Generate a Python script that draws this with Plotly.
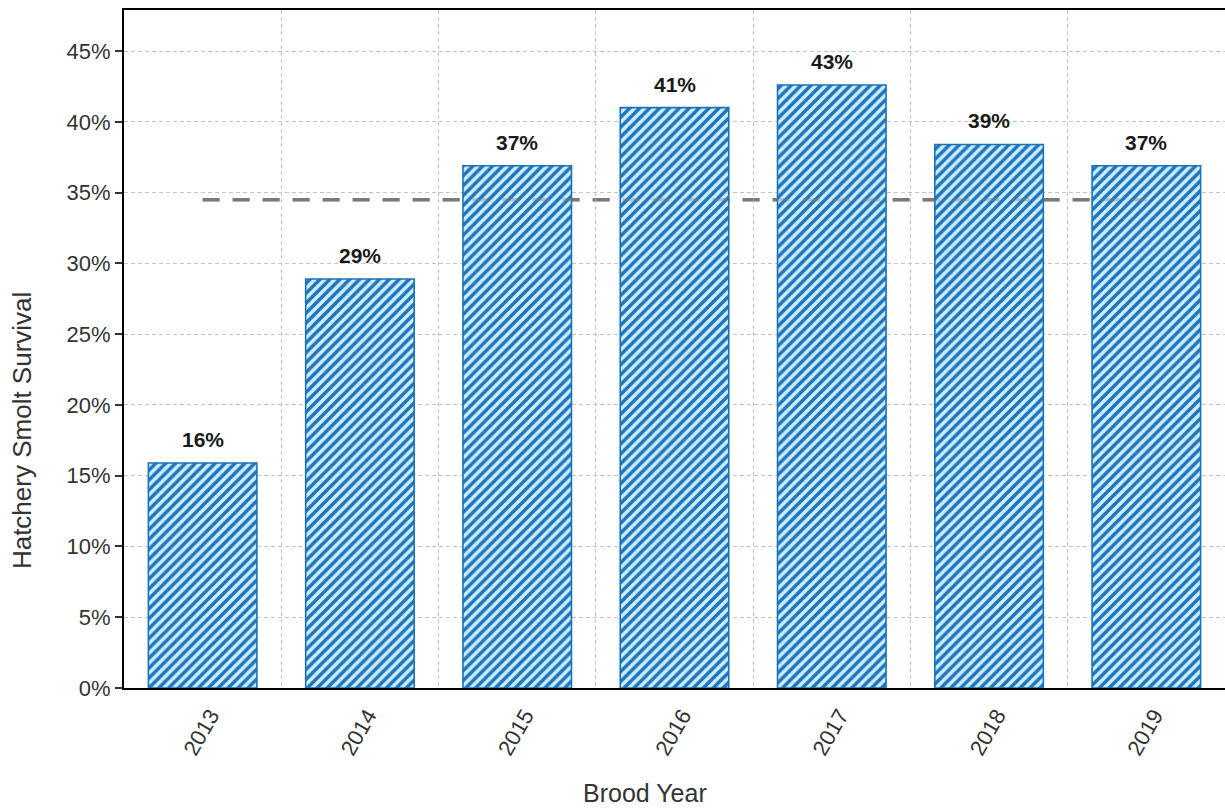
import plotly.graph_objects as go

years = ["2013", "2014", "2015", "2016", "2017", "2018", "2019"]
survival = [0.159, 0.289, 0.369, 0.410, 0.426, 0.384, 0.369]
labels = ["16%", "29%", "37%", "41%", "43%", "39%", "37%"]
average_survival = 0.345
y_ticks = [0, 0.05, 0.10, 0.15, 0.20, 0.25, 0.30, 0.35, 0.40, 0.45]
y_tick_text = ["0%", "5%", "10%", "15%", "20%", "25%", "30%", "35%", "40%", "45%"]

FONT = "Liberation Sans, Arial, sans-serif"

fig = go.Figure()
fig.add_trace(go.Bar(
    x=years, y=survival, width=0.69,
    marker=dict(
        color="rgb(210,237,251)",
        line=dict(color="#1a72ba", width=1.6),
        pattern=dict(shape="/", fgcolor="#1b76bf", bgcolor="rgb(210,237,251)",
                     size=7, solidity=0.5, fillmode="replace"),
    ),
    hoverinfo="skip", showlegend=False,
))

for i, (v, t) in enumerate(zip(survival, labels)):
    fig.add_annotation(x=i, y=v, xref="x", yref="y", text="<b>" + t + "</b>",
                       showarrow=False, yanchor="bottom", yshift=10,
                       font=dict(family=FONT, size=21, color="#1a1a1a"))

# average line: solid below bars, faint copy above so it shows through the hatch
fig.add_shape(type="line", xref="x", yref="y", x0=0, x1=len(years) - 1,
              y0=average_survival, y1=average_survival, layer="below",
              line=dict(color="#7a7a7a", width=3.5, dash="17px,13px"))
fig.add_shape(type="line", xref="x", yref="y", x0=0, x1=len(years) - 1,
              y0=average_survival, y1=average_survival, layer="above", opacity=0.35,
              line=dict(color="#7a7a7a", width=3.5, dash="17px,13px"))

# axis titles
fig.add_annotation(text="Brood Year", xref="paper", yref="paper", x=0.473, y=-0.155,
                   xanchor="center", yanchor="middle", showarrow=False,
                   font=dict(family=FONT, size=25, color="#333333"))
fig.add_annotation(text="Hatchery Smolt Survival", xref="paper", yref="paper",
                   x=-0.0926, y=0.379, textangle=-90,
                   xanchor="center", yanchor="middle", showarrow=False,
                   font=dict(family=FONT, size=26, color="#333333"))

fig.update_layout(
    width=1225, height=809,
    margin=dict(l=124, r=0, t=10, b=121),
    plot_bgcolor="white", paper_bgcolor="white",
    font=dict(family=FONT, size=22, color="#333333"),
)
fig.update_xaxes(
    type="category", range=[-0.5, 6.5], tickson="boundaries",
    showgrid=True, gridcolor="#c4c4c4", griddash="4px,3px", gridwidth=1,
    showline=True, linecolor="black", linewidth=2, mirror=True,
    ticks="", tickangle=-60, tickfont=dict(size=22, color="#333333"),
    ticklabelshift=8, ticklabelstandoff=4,
)
fig.update_yaxes(
    range=[0, 0.479], tickvals=y_ticks, ticktext=y_tick_text,
    showgrid=True, gridcolor="#c4c4c4", griddash="4px,3px", gridwidth=1,
    showline=True, linecolor="black", linewidth=2, zeroline=False,
    ticks="outside", ticklen=7, tickcolor="#333333", tickwidth=2,
    tickfont=dict(size=22, color="#333333"),
)

fig.write_html("out.html", config={"displayModeBar": False},
               post_script="document.body.style.margin='0';document.body.style.overflow='hidden';")
